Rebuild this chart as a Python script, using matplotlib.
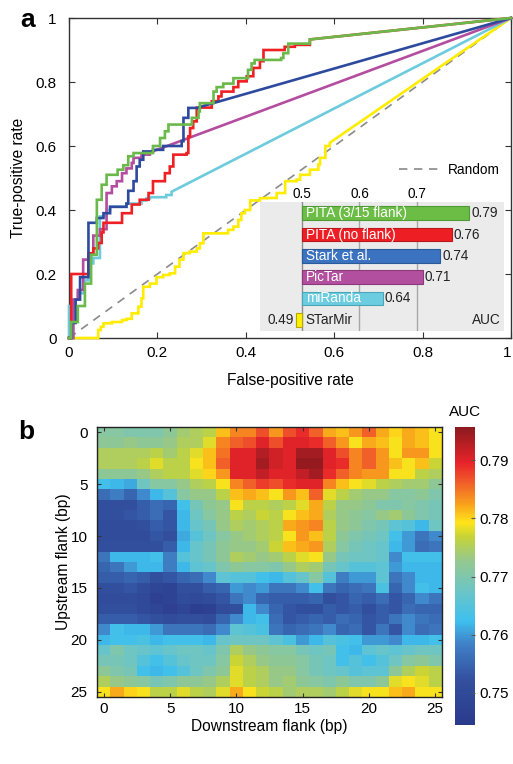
import numpy as np
import matplotlib
matplotlib.use("Agg")
from matplotlib import pyplot as plt
from matplotlib.colors import LinearSegmentedColormap

plt.rcParams['font.family'] = ['Liberation Sans', 'DejaVu Sans']

# ---- panel a: ROC curves (step corners, last run goes straight to (1,1)) ----
green_fpr = [0, 0.005, 0.02, 0.036, 0.05, 0.063, 0.074, 0.085, 0.11, 0.123, 0.134, 0.146, 0.168, 0.19, 0.206,
             0.217, 0.225, 0.255, 0.278, 0.293, 0.296, 0.319, 0.327, 0.334, 0.349, 0.372, 0.394, 0.405, 0.413,
             0.42, 0.48, 0.485, 0.496, 0.545]
green_tpr = [0, 0.05, 0.1, 0.17, 0.26, 0.432, 0.479, 0.51, 0.526, 0.54, 0.568, 0.578, 0.578, 0.6, 0.625,
             0.646, 0.667, 0.667, 0.688, 0.708, 0.734, 0.734, 0.77, 0.784, 0.795, 0.812, 0.812, 0.838, 0.858,
             0.869, 0.875, 0.89, 0.92, 0.933]

red_fpr = [0, 0.005, 0.035, 0.044, 0.055, 0.066, 0.074, 0.078, 0.097, 0.12, 0.142, 0.16, 0.18, 0.19, 0.217,
           0.228, 0.236, 0.266, 0.27, 0.274, 0.281, 0.289, 0.315, 0.323, 0.338, 0.345, 0.372, 0.383, 0.402,
           0.417, 0.432, 0.44, 0.481, 0.488, 0.511, 0.545]
red_tpr = [0, 0.2, 0.2, 0.265, 0.28, 0.297, 0.33, 0.36, 0.36, 0.39, 0.417, 0.432, 0.453, 0.49, 0.515,
           0.536, 0.573, 0.578, 0.63, 0.656, 0.677, 0.72, 0.72, 0.74, 0.755, 0.77, 0.784, 0.802, 0.818,
           0.844, 0.865, 0.9, 0.9, 0.91, 0.916, 0.933]

blue_fpr = [0, 0.006, 0.015, 0.025, 0.044, 0.063, 0.078, 0.093, 0.13, 0.134, 0.146, 0.153, 0.16, 0.168,
            0.19, 0.213, 0.255, 0.259, 0.27, 0.296]
blue_tpr = [0, 0.047, 0.12, 0.19, 0.36, 0.375, 0.39, 0.41, 0.42, 0.46, 0.49, 0.536, 0.557, 0.583,
            0.588, 0.6, 0.615, 0.688, 0.719, 0.722]

mag_fpr = [0, 0.01, 0.02, 0.032, 0.045, 0.055, 0.07, 0.085, 0.097, 0.108, 0.12, 0.13, 0.142, 0.146,
           0.164, 0.183]
mag_tpr = [0, 0.12, 0.15, 0.245, 0.26, 0.32, 0.34, 0.453, 0.474, 0.49, 0.515, 0.53, 0.547, 0.563,
           0.573, 0.58]

cyan_fpr = [0, 0, 0.01, 0.02, 0.035, 0.044, 0.055, 0.07, 0.085, 0.093, 0.13, 0.164, 0.175, 0.183, 0.22, 0.232]
cyan_tpr = [0, 0.1, 0.12, 0.14, 0.18, 0.233, 0.25, 0.38, 0.4, 0.41, 0.42, 0.43, 0.436, 0.44, 0.447, 0.457]

yel_fpr = [0, 0.066, 0.072, 0.078, 0.097, 0.12, 0.13, 0.142, 0.157, 0.164, 0.168, 0.183, 0.198, 0.213,
           0.228, 0.24, 0.25, 0.259, 0.273, 0.289, 0.296, 0.304, 0.334, 0.36, 0.372, 0.383, 0.39, 0.398,
           0.41, 0.432, 0.447, 0.47, 0.489, 0.515, 0.523, 0.545, 0.564, 0.568, 0.58, 0.59]
yel_tpr = [0, 0.025, 0.035, 0.046, 0.05, 0.056, 0.06, 0.077, 0.098, 0.124, 0.16, 0.17, 0.19, 0.197,
           0.202, 0.223, 0.245, 0.265, 0.27, 0.28, 0.296, 0.327, 0.327, 0.338, 0.348, 0.369, 0.39, 0.4,
           0.43, 0.437, 0.4375, 0.453, 0.49, 0.495, 0.51, 0.526, 0.542, 0.563, 0.6, 0.61]

# inset bars
methods = ['PITA (3/15 flank)', 'PITA (no flank)', 'Stark et al.', 'PicTar', 'miRanda', 'STarMir']
auc = [0.79, 0.76, 0.74, 0.71, 0.64, 0.49]
auc_labels = ['0.79', '0.76', '0.74', '0.71', '0.64', '0.49']

# ---- panel b: AUC by flank length (rows = upstream 0..25, cols = downstream 0..25) ----
heat = [
    [0.771, 0.771, 0.770, 0.770, 0.770, 0.772, 0.774, 0.775, 0.776, 0.781, 0.784, 0.784, 0.787, 0.783, 0.787, 0.789, 0.786, 0.782, 0.781, 0.783, 0.786, 0.782, 0.780, 0.782, 0.781, 0.779],
    [0.772, 0.772, 0.773, 0.772, 0.772, 0.773, 0.775, 0.775, 0.778, 0.784, 0.786, 0.787, 0.790, 0.787, 0.790, 0.790, 0.789, 0.786, 0.783, 0.779, 0.782, 0.781, 0.779, 0.782, 0.781, 0.779],
    [0.775, 0.775, 0.775, 0.775, 0.776, 0.774, 0.776, 0.778, 0.781, 0.785, 0.790, 0.790, 0.793, 0.791, 0.790, 0.794, 0.794, 0.790, 0.787, 0.784, 0.786, 0.783, 0.779, 0.783, 0.783, 0.779],
    [0.775, 0.775, 0.775, 0.776, 0.778, 0.776, 0.776, 0.779, 0.781, 0.786, 0.790, 0.790, 0.794, 0.791, 0.790, 0.795, 0.795, 0.790, 0.789, 0.784, 0.786, 0.783, 0.781, 0.779, 0.781, 0.777],
    [0.772, 0.772, 0.772, 0.773, 0.775, 0.776, 0.776, 0.778, 0.780, 0.783, 0.790, 0.790, 0.792, 0.790, 0.790, 0.792, 0.794, 0.789, 0.786, 0.784, 0.783, 0.783, 0.779, 0.779, 0.776, 0.775],
    [0.763, 0.762, 0.761, 0.768, 0.771, 0.771, 0.773, 0.775, 0.776, 0.779, 0.784, 0.786, 0.788, 0.787, 0.789, 0.790, 0.790, 0.784, 0.781, 0.779, 0.778, 0.776, 0.775, 0.774, 0.774, 0.772],
    [0.756, 0.758, 0.755, 0.759, 0.762, 0.765, 0.771, 0.773, 0.773, 0.776, 0.781, 0.782, 0.781, 0.779, 0.783, 0.781, 0.786, 0.778, 0.776, 0.774, 0.773, 0.773, 0.771, 0.771, 0.772, 0.770],
    [0.752, 0.752, 0.752, 0.754, 0.756, 0.755, 0.763, 0.769, 0.772, 0.773, 0.779, 0.776, 0.776, 0.775, 0.776, 0.778, 0.782, 0.776, 0.773, 0.773, 0.772, 0.770, 0.770, 0.771, 0.770, 0.769],
    [0.752, 0.752, 0.753, 0.754, 0.756, 0.753, 0.762, 0.768, 0.771, 0.773, 0.776, 0.775, 0.777, 0.776, 0.779, 0.781, 0.782, 0.775, 0.773, 0.772, 0.771, 0.773, 0.774, 0.772, 0.770, 0.769],
    [0.751, 0.751, 0.751, 0.752, 0.754, 0.753, 0.762, 0.767, 0.769, 0.773, 0.775, 0.774, 0.775, 0.776, 0.782, 0.783, 0.784, 0.776, 0.773, 0.772, 0.770, 0.769, 0.766, 0.765, 0.762, 0.768],
    [0.751, 0.751, 0.751, 0.751, 0.753, 0.752, 0.761, 0.765, 0.768, 0.771, 0.773, 0.774, 0.775, 0.776, 0.779, 0.783, 0.781, 0.776, 0.772, 0.770, 0.769, 0.768, 0.763, 0.760, 0.757, 0.759],
    [0.752, 0.752, 0.752, 0.752, 0.752, 0.754, 0.762, 0.767, 0.769, 0.772, 0.773, 0.773, 0.774, 0.777, 0.781, 0.782, 0.783, 0.775, 0.771, 0.769, 0.768, 0.767, 0.762, 0.760, 0.756, 0.757],
    [0.757, 0.762, 0.762, 0.762, 0.763, 0.758, 0.765, 0.767, 0.769, 0.772, 0.775, 0.774, 0.773, 0.774, 0.776, 0.778, 0.779, 0.773, 0.769, 0.768, 0.768, 0.767, 0.759, 0.763, 0.763, 0.763],
    [0.755, 0.757, 0.760, 0.762, 0.762, 0.758, 0.762, 0.766, 0.767, 0.770, 0.772, 0.771, 0.771, 0.770, 0.773, 0.775, 0.774, 0.769, 0.767, 0.765, 0.765, 0.766, 0.760, 0.762, 0.762, 0.762],
    [0.754, 0.754, 0.755, 0.754, 0.752, 0.753, 0.755, 0.756, 0.759, 0.766, 0.765, 0.765, 0.763, 0.762, 0.765, 0.767, 0.771, 0.765, 0.758, 0.760, 0.760, 0.766, 0.757, 0.759, 0.762, 0.762],
    [0.752, 0.752, 0.753, 0.751, 0.749, 0.748, 0.752, 0.752, 0.754, 0.755, 0.760, 0.759, 0.760, 0.757, 0.757, 0.759, 0.763, 0.757, 0.755, 0.756, 0.757, 0.764, 0.755, 0.759, 0.763, 0.762],
    [0.751, 0.751, 0.751, 0.750, 0.747, 0.748, 0.751, 0.750, 0.751, 0.753, 0.757, 0.759, 0.755, 0.754, 0.754, 0.754, 0.755, 0.752, 0.753, 0.755, 0.754, 0.756, 0.753, 0.755, 0.759, 0.757],
    [0.752, 0.752, 0.752, 0.750, 0.749, 0.747, 0.749, 0.746, 0.747, 0.751, 0.752, 0.762, 0.759, 0.755, 0.753, 0.752, 0.752, 0.754, 0.753, 0.754, 0.752, 0.754, 0.753, 0.756, 0.755, 0.755],
    [0.754, 0.754, 0.754, 0.753, 0.752, 0.751, 0.752, 0.752, 0.751, 0.755, 0.759, 0.762, 0.763, 0.756, 0.753, 0.754, 0.755, 0.754, 0.756, 0.755, 0.753, 0.754, 0.757, 0.759, 0.757, 0.756],
    [0.759, 0.763, 0.762, 0.762, 0.760, 0.757, 0.757, 0.757, 0.756, 0.759, 0.766, 0.765, 0.764, 0.757, 0.755, 0.756, 0.757, 0.759, 0.755, 0.756, 0.753, 0.757, 0.753, 0.759, 0.756, 0.757],
    [0.762, 0.763, 0.763, 0.764, 0.762, 0.763, 0.763, 0.763, 0.762, 0.767, 0.768, 0.768, 0.768, 0.766, 0.764, 0.760, 0.762, 0.765, 0.764, 0.763, 0.760, 0.760, 0.759, 0.762, 0.762, 0.763],
    [0.767, 0.770, 0.768, 0.767, 0.766, 0.767, 0.768, 0.768, 0.767, 0.770, 0.775, 0.773, 0.772, 0.771, 0.771, 0.769, 0.768, 0.769, 0.763, 0.762, 0.766, 0.767, 0.766, 0.767, 0.768, 0.768],
    [0.769, 0.769, 0.768, 0.765, 0.763, 0.765, 0.767, 0.768, 0.768, 0.771, 0.777, 0.775, 0.773, 0.772, 0.772, 0.771, 0.769, 0.768, 0.763, 0.765, 0.763, 0.765, 0.768, 0.771, 0.772, 0.770],
    [0.772, 0.770, 0.769, 0.763, 0.762, 0.763, 0.765, 0.768, 0.770, 0.772, 0.778, 0.776, 0.775, 0.773, 0.773, 0.771, 0.769, 0.768, 0.767, 0.765, 0.766, 0.766, 0.772, 0.775, 0.777, 0.776],
    [0.775, 0.773, 0.772, 0.771, 0.769, 0.770, 0.772, 0.772, 0.773, 0.775, 0.778, 0.776, 0.775, 0.773, 0.774, 0.772, 0.771, 0.770, 0.772, 0.770, 0.770, 0.772, 0.778, 0.779, 0.778, 0.776],
    [0.779, 0.782, 0.780, 0.779, 0.776, 0.776, 0.778, 0.776, 0.775, 0.778, 0.782, 0.779, 0.777, 0.776, 0.774, 0.775, 0.775, 0.774, 0.776, 0.778, 0.779, 0.779, 0.781, 0.782, 0.779, 0.779],
]
flank_ticks = [0, 5, 10, 15, 20, 25]
cbar_ticks = [0.75, 0.76, 0.77, 0.78, 0.79]


def step_path(fpr, tpr):
    # horizontal then vertical between corners, then a straight run to (1,1)
    xs, ys = [fpr[0]], [tpr[0]]
    for i in range(1, len(fpr)):
        xs += [fpr[i], fpr[i]]
        ys += [tpr[i - 1], tpr[i]]
    xs.append(1.0)
    ys.append(1.0)
    return xs, ys


fig = plt.figure(figsize=(5.13, 7.64), dpi=100)

# ---------------- panel a ----------------
ax = fig.add_axes([69 / 513, 1 - 338 / 764, 442 / 513, 320 / 764])
rnd, = ax.plot([0, 1], [0, 1], color='#8a8a8a', lw=1.2, dashes=(5, 4), label='Random', zorder=2)

curves = [
    (yel_fpr, yel_tpr, '#ffec00'),
    (cyan_fpr, cyan_tpr, '#6ccbdc'),
    (mag_fpr, mag_tpr, '#b44da0'),
    (red_fpr, red_tpr, '#ee2024'),
    (blue_fpr, blue_tpr, '#2d4a9e'),
    (green_fpr, green_tpr, '#6ab94a'),
]
for i, (f, t, c) in enumerate(curves):
    xs, ys = step_path(f, t)
    ax.plot(xs, ys, color=c, lw=1.9, solid_joinstyle='miter', zorder=3 + i, clip_on=False)

ax.set_xlim(0, 1)
ax.set_ylim(0, 1)
ticks = [0, 0.2, 0.4, 0.6, 0.8, 1]
ax.set_xticks(ticks)
ax.set_yticks(ticks)
ax.set_xticklabels(['0', '0.2', '0.4', '0.6', '0.8', '1'])
ax.set_yticklabels(['0', '0.2', '0.4', '0.6', '0.8', '1'])
ax.tick_params(direction='in', top=True, right=True, length=4, labelsize=11, color='#333333')
ax.tick_params(axis='y', pad=9)
ax.tick_params(axis='x', pad=6)
ax.get_xticklabels()[-1].set_ha('right')
for s in ax.spines.values():
    s.set_color('#333333')
    s.set_linewidth(1)
ax.set_xlabel('False-positive rate', fontsize=11.2, labelpad=9)
ax.set_ylabel('True-positive rate', fontsize=11.2, labelpad=7)
ax.legend(handles=[rnd], loc='center right', bbox_to_anchor=(0.99, 0.525), frameon=False,
          fontsize=9.8, handlelength=3.2, handletextpad=0.4, borderpad=0)

# inset AUC bars
bar_face = ['#6cbd45', '#ed1f24', '#3b73c0', '#b34f9f', '#6ccde0', '#fff000']
bar_edge = ['#4f9a35', '#b8181b', '#2c5a99', '#8a3a7a', '#4aa6b8', '#b5a800']
axi = fig.add_axes([260 / 513, 1 - 331 / 764, 244 / 513, 129 / 764])
axi.set_facecolor('#ebebeb')
axi.set_xlim(0.428, 0.85)
axi.set_ylim(5.53, -0.53)
for v, c in [(0.5, '#8c8c8c'), (0.6, '#a8a8a8'), (0.7, '#a8a8a8')]:
    axi.axvline(v, color=c, lw=1, zorder=1)
ypos = np.arange(len(methods))
for y, name, a, lab, fc, ec in zip(ypos, methods, auc, auc_labels, bar_face, bar_edge):
    axi.barh(y, a - 0.5, left=0.5, height=0.64, color=fc, edgecolor=ec, lw=0.8, zorder=2)
    if a >= 0.5:
        axi.text(0.507, y, name, color='white', fontsize=9.8, va='center', ha='left', zorder=3)
        axi.text(a + 0.003, y, lab, color='#222222', fontsize=9.8, va='center', ha='left', zorder=3)
    else:
        axi.text(0.507, y, name, color='#222222', fontsize=9.8, va='center', ha='left', zorder=3)
        axi.text(a - 0.003, y, lab, color='#222222', fontsize=9.8, va='center', ha='right', zorder=3)
axi.text(0.845, 5, 'AUC', color='#222222', fontsize=9.8, va='center', ha='right')
axi.xaxis.tick_top()
axi.set_xticks([0.5, 0.6, 0.7])
axi.set_xticklabels(['0.5', '0.6', '0.7'])
axi.set_yticks([])
axi.tick_params(axis='x', length=0, labelsize=9.8, pad=1)
for s in axi.spines.values():
    s.set_visible(False)

fig.text(20 / 513, 1 - 20 / 764, 'a', fontsize=19, fontweight='bold', ha='left', va='center')

# ---------------- panel b ----------------
cmap = LinearSegmentedColormap.from_list('auc_jet', [
    (0.00, '#2b3a8c'), (0.15, '#33509f'), (0.27, '#4080c6'), (0.35, '#3ec0ee'),
    (0.45, '#6cc5c6'), (0.55, '#94c890'), (0.63, '#c4d338'), (0.68, '#ffe41a'),
    (0.74, '#f9a31b'), (0.82, '#f0592a'), (0.88, '#e8242a'), (1.00, '#8b1a1e')])

axb = fig.add_axes([97.4 / 513, 1 - 697 / 764, 344.2 / 513, 270 / 764])
im = axb.imshow(np.array(heat), cmap=cmap, vmin=0.7445, vmax=0.7957, aspect='auto',
                interpolation='nearest')
axb.set_xticks(flank_ticks)
axb.set_yticks(flank_ticks)
axb.tick_params(direction='in', top=True, right=True, length=3, labelsize=11, color='#333333')
axb.tick_params(axis='y', pad=7)
for s in axb.spines.values():
    s.set_color('#222222')
    s.set_linewidth(1)
axb.set_xlabel('Downstream flank (bp)', fontsize=11.2, labelpad=2)
axb.set_ylabel('Upstream flank (bp)', fontsize=11.2, labelpad=0)

cax = fig.add_axes([455 / 513, 1 - 725 / 764, 20 / 513, 298 / 764])
cb = fig.colorbar(im, cax=cax, ticks=cbar_ticks)
cb.outline.set_visible(False)
cb.ax.set_yticklabels(['0.75', '0.76', '0.77', '0.78', '0.79'])
cb.ax.tick_params(direction='in', length=3, labelsize=11, color='#555555', pad=3)
cax.set_title('AUC', fontsize=11, pad=8)

fig.text(18 / 513, 1 - 432 / 764, 'b', fontsize=19, fontweight='bold', ha='left', va='center')

fig.savefig('out.png', dpi=100)
